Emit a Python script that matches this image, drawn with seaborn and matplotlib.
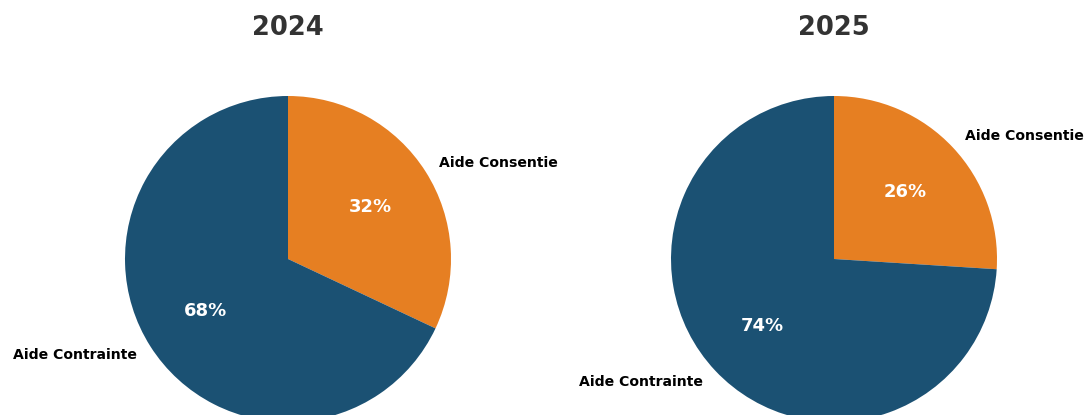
import matplotlib
matplotlib.use("Agg")
import matplotlib.pyplot as plt
import seaborn as sns

sns.set_theme(style="white")
plt.rcParams["font.family"] = ["DejaVu Sans"]

years = ["2024", "2025"]
categories = ["Aide Consentie", "Aide Contrainte"]
shares_2024 = [32, 68]
shares_2025 = [26, 74]
colors = ["#E67F22", "#1B5173"]

W, H = 1085, 415
fig = plt.figure(figsize=(W / 100, H / 100), dpi=100)

radius_px = 163
side_px = radius_px * 2.5  # pie axes span -1.25..1.25
centers = [(288, 259), (834, 259)]

for year, shares, (cx, cy) in zip(years, [shares_2024, shares_2025], centers):
    ax = fig.add_axes([(cx - side_px / 2) / W, (H - cy - side_px / 2) / H,
                       side_px / W, side_px / H])
    wedges, texts, autotexts = ax.pie(
        shares, labels=categories, colors=colors, startangle=90,
        counterclock=False, autopct="%1.0f%%", pctdistance=0.6,
        labeldistance=1.1,
        wedgeprops={"linewidth": 0, "edgecolor": "none"},
        textprops={"fontsize": 10.1, "fontweight": "bold", "color": "black"},
    )
    for t in autotexts:
        t.set_color("white")
        t.set_fontsize(13)
        t.set_fontweight("bold")
    ax.set_aspect("equal")
    fig.text(cx / W, (H - 28) / H, year, ha="center", va="center",
             fontsize=18.5, fontweight="bold", color="#333333")

fig.savefig("out.png", dpi=100)
